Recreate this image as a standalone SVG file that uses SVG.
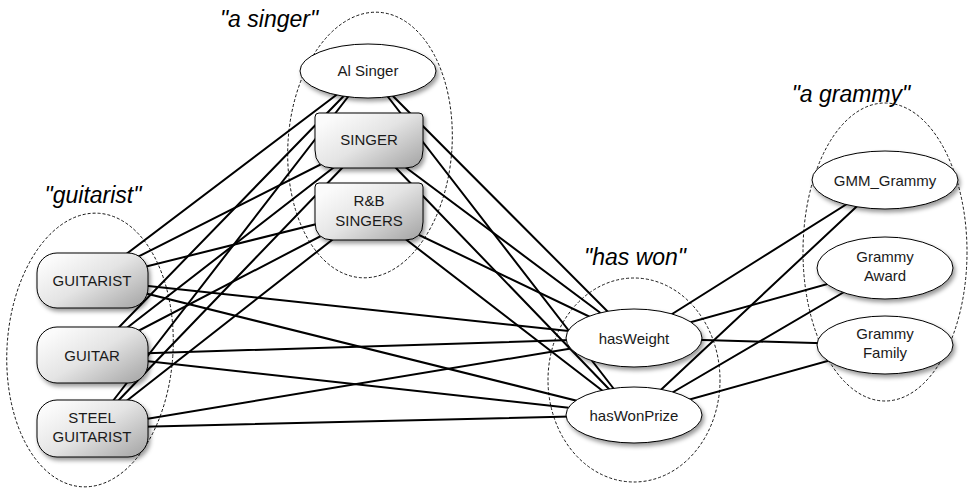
<svg xmlns="http://www.w3.org/2000/svg" width="968" height="495" viewBox="0 0 968 495">
<defs>
  <linearGradient id="gb" x1="0.1" y1="0.15" x2="1" y2="0.9">
    <stop offset="0" stop-color="#fbfbfb"/>
    <stop offset="0.45" stop-color="#e4e4e4"/>
    <stop offset="1" stop-color="#a8a8a8"/>
  </linearGradient>
  <filter id="sh" x="-20%" y="-20%" width="140%" height="150%">
    <feDropShadow dx="2" dy="3" stdDeviation="2.2" flood-color="#000" flood-opacity="0.4"/>
  </filter>
</defs>
<style>
  .grp { fill: none; stroke: #000; stroke-width: 0.9; stroke-dasharray: 3 2; }
  .glab { font-family: "Liberation Sans", Arial, sans-serif; font-style: italic; font-size: 23px; fill: #000; text-anchor: middle; }
  .ell { fill: #fff; stroke: #000; stroke-width: 1; filter: url(#sh); }
  .box { fill: url(#gb); stroke: #000; stroke-width: 1; filter: url(#sh); }
  .lab { font-family: "Liberation Sans", Arial, sans-serif; font-size: 15px; fill: #1a1a1a; text-anchor: middle; }
  #connectors line { stroke: #000; stroke-width: 2; stroke-linecap: round; }
</style>
<rect width="968" height="495" fill="#fff"/>

<g id="groups">
  <ellipse class="grp" cx="90" cy="350" rx="83" ry="137" transform="rotate(3.5 90 350)"/>
  <ellipse class="grp" cx="370" cy="145" rx="82" ry="133" transform="rotate(4 370 145)"/>
  <ellipse class="grp" cx="634" cy="380" rx="86" ry="102"/>
  <ellipse class="grp" cx="885" cy="252" rx="82" ry="149"/>
  <text class="glab" x="269" y="27">"a singer"</text>
  <text class="glab" x="93" y="203">"guitarist"</text>
  <text class="glab" x="635" y="265">"has won"</text>
  <text class="glab" x="851" y="102">"a grammy"</text>
</g>

<g id="connectors">
  <line x1="368" y1="71" x2="92" y2="280"/>
  <line x1="368" y1="71" x2="92" y2="355"/>
  <line x1="368" y1="71" x2="92" y2="428"/>
  <line x1="369" y1="140" x2="92" y2="280"/>
  <line x1="369" y1="140" x2="92" y2="355"/>
  <line x1="369" y1="140" x2="92" y2="428"/>
  <line x1="369" y1="211" x2="92" y2="280"/>
  <line x1="369" y1="211" x2="92" y2="355"/>
  <line x1="369" y1="211" x2="92" y2="428"/>
  <line x1="92" y1="280" x2="634" y2="338"/>
  <line x1="92" y1="280" x2="634" y2="415"/>
  <line x1="92" y1="355" x2="634" y2="338"/>
  <line x1="92" y1="355" x2="634" y2="415"/>
  <line x1="92" y1="428" x2="634" y2="338"/>
  <line x1="92" y1="428" x2="634" y2="415"/>
  <line x1="368" y1="71" x2="634" y2="338"/>
  <line x1="368" y1="71" x2="634" y2="415"/>
  <line x1="369" y1="140" x2="634" y2="338"/>
  <line x1="369" y1="140" x2="634" y2="415"/>
  <line x1="369" y1="211" x2="634" y2="338"/>
  <line x1="369" y1="211" x2="634" y2="415"/>
  <line x1="634" y1="338" x2="885" y2="180"/>
  <line x1="634" y1="338" x2="885" y2="268"/>
  <line x1="634" y1="338" x2="885" y2="345"/>
  <line x1="634" y1="415" x2="885" y2="180"/>
  <line x1="634" y1="415" x2="885" y2="268"/>
  <line x1="634" y1="415" x2="885" y2="345"/>
</g>

<g id="n-alsinger">
  <ellipse class="ell" cx="368" cy="71" rx="68" ry="27"/>
  <text class="lab" x="368" y="76">Al Singer</text>
</g>
<g id="n-singer">
  <path class="box" d="M319,113 H419 Q423,113 423,117 V150 Q423,168 405,168 H333 Q315,168 315,150 V117 Q315,113 319,113 Z"/>
  <text class="lab" x="369" y="145">SINGER</text>
</g>
<g id="n-rbsingers">
  <path class="box" d="M319,183 H419 Q423,183 423,187 V222 Q423,240 405,240 H333 Q315,240 315,222 V187 Q315,183 319,183 Z"/>
  <text class="lab" x="369" y="205.5">R&amp;B</text>
  <text class="lab" x="369" y="225.5">SINGERS</text>
</g>
<g id="n-guitarist">
  <rect class="box" x="37" y="253" width="111" height="55" rx="20" ry="20"/>
  <text class="lab" x="92" y="285.5">GUITARIST</text>
</g>
<g id="n-guitar">
  <rect class="box" x="37" y="327" width="111" height="56" rx="20" ry="20"/>
  <text class="lab" x="92" y="360.5">GUITAR</text>
</g>
<g id="n-steelguitarist">
  <rect class="box" x="37" y="400" width="111" height="57" rx="20" ry="20"/>
  <text class="lab" x="92" y="423">STEEL</text>
  <text class="lab" x="92" y="442">GUITARIST</text>
</g>
<g id="n-hasweight">
  <ellipse class="ell" cx="634" cy="338" rx="68" ry="29"/>
  <text class="lab" x="634" y="344">hasWeight</text>
</g>
<g id="n-haswonprize">
  <ellipse class="ell" cx="634" cy="415" rx="68" ry="28"/>
  <text class="lab" x="634" y="420.5">hasWonPrize</text>
</g>
<g id="n-gmmgrammy">
  <ellipse class="ell" cx="885" cy="180" rx="73" ry="29"/>
  <text class="lab" x="885" y="185.5">GMM_Grammy</text>
</g>
<g id="n-grammyaward">
  <ellipse class="ell" cx="885" cy="268" rx="68" ry="31"/>
  <text class="lab" x="885" y="262">Grammy</text>
  <text class="lab" x="885" y="281">Award</text>
</g>
<g id="n-grammyfamily">
  <ellipse class="ell" cx="885" cy="345" rx="68" ry="29"/>
  <text class="lab" x="885" y="339">Grammy</text>
  <text class="lab" x="885" y="358">Family</text>
</g>
</svg>
